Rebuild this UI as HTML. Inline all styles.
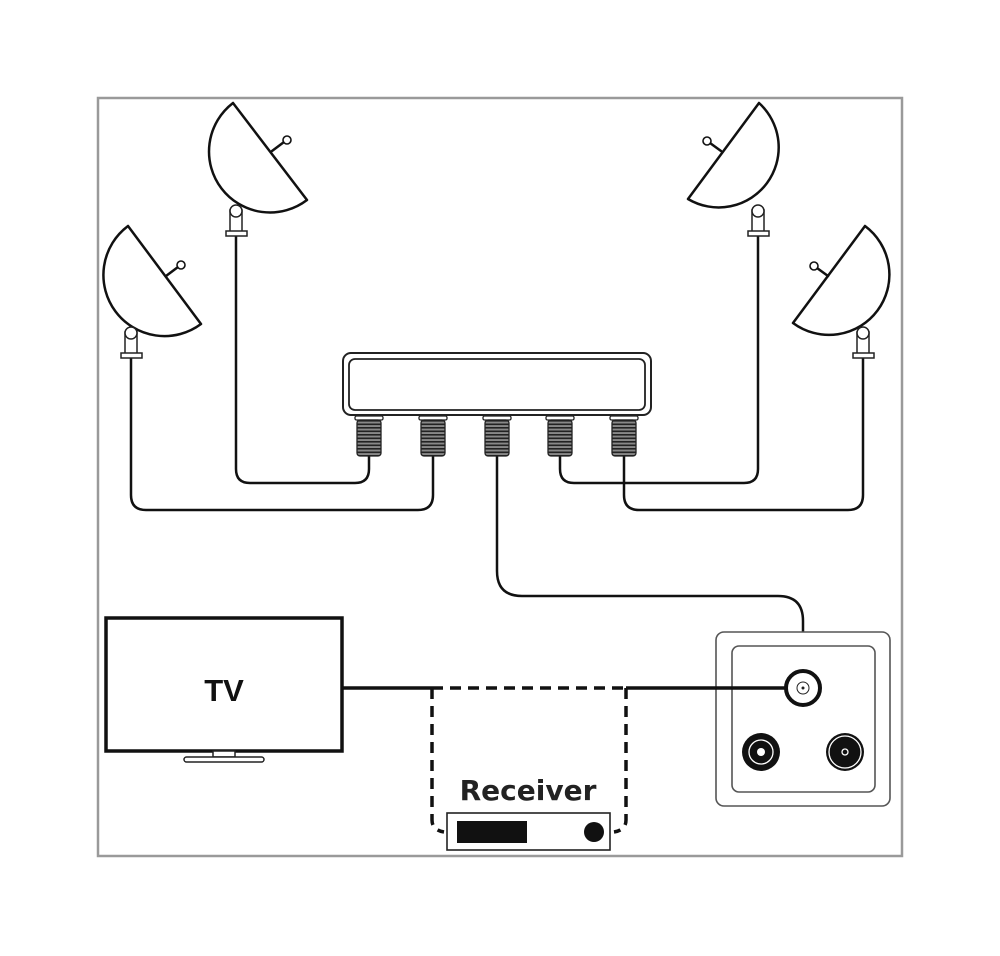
<!DOCTYPE html>
<html><head><meta charset="utf-8"><style>html,body{margin:0;padding:0;background:#fff}svg{display:block}</style></head>
<body>
<svg width="1000" height="956" viewBox="0 0 1000 956" xmlns="http://www.w3.org/2000/svg">
<rect x="0" y="0" width="1000" height="956" fill="#fff"/>
<rect x="98" y="98" width="804" height="758" fill="#fff" stroke="#9a9a9a" stroke-width="2.5"/>
<g fill="none" stroke="#111" stroke-width="2.5" stroke-linecap="round" stroke-linejoin="round">
<path d="M236 236 V469 Q236 483 250 483 H355 Q369 483 369 469 V456"/>
<path d="M131 358 V495 Q131 510 146 510 H418 Q433 510 433 495 V456"/>
<path d="M497 456 V571 Q497 596 522 596 H778 Q803 596 803 621 V632"/>
<path d="M560 456 V469 Q560 483 574 483 H744 Q758 483 758 469 V236"/>
<path d="M624 456 V495 Q624 510 639 510 H848 Q863 510 863 495 V358"/>
<path d="M233 103 A61 61 0 0 0 307 200 Z" fill="#fff"/>
<path d="M272 151 L284 142"/><circle cx="287" cy="140" r="4" fill="#fff" stroke-width="1.6"/>
<path d="M128 226 A61 61 0 0 0 201 324 Z" fill="#fff"/>
<path d="M166 276 L178 267"/><circle cx="181" cy="265" r="4" fill="#fff" stroke-width="1.6"/>
<path d="M759 103 A60 60 0 0 1 688 199 Z" fill="#fff"/>
<path d="M721 151 L710 143"/><circle cx="707" cy="141" r="4" fill="#fff" stroke-width="1.6"/>
<path d="M865 226 A60 60 0 0 1 793 323 Z" fill="#fff"/>
<path d="M828 276 L817 268"/><circle cx="814" cy="266" r="4" fill="#fff" stroke-width="1.6"/>
</g>
<g fill="#fff" stroke="#222" stroke-width="1.5">
<rect x="230" y="210" width="12" height="22"/><circle cx="236" cy="211" r="6"/><rect x="226" y="231" width="21" height="5"/>
<rect x="125" y="332" width="12" height="22"/><circle cx="131" cy="333" r="6"/><rect x="121" y="353" width="21" height="5"/>
<rect x="752" y="210" width="12" height="22"/><circle cx="758" cy="211" r="6"/><rect x="748" y="231" width="21" height="5"/>
<rect x="857" y="332" width="12" height="22"/><circle cx="863" cy="333" r="6"/><rect x="853" y="353" width="21" height="5"/>
</g>
<rect x="343" y="353" width="308" height="62" rx="8" fill="#fff" stroke="#222" stroke-width="2"/>
<rect x="349" y="359" width="296" height="51" rx="6" fill="#fff" stroke="#222" stroke-width="1.8"/>
<defs>
<pattern id="rib" width="4" height="3.5" patternUnits="userSpaceOnUse"><rect width="4" height="3.5" fill="#888"/><rect width="4" height="1.6" fill="#222"/></pattern>
</defs>
<g stroke="#222" stroke-width="1.3">
<g id="c"><rect x="355" y="416" width="28" height="4" rx="1.5" fill="#fff"/><rect x="357" y="420" width="24" height="36" rx="3" fill="url(#rib)"/></g>
<use href="#c" x="64"/><use href="#c" x="128"/><use href="#c" x="191"/><use href="#c" x="255"/>
</g>
<rect x="106" y="618" width="236" height="133" fill="#fff" stroke="#111" stroke-width="3.5"/>
<rect x="213" y="751" width="22" height="6" fill="#fff" stroke="#222" stroke-width="1.5"/>
<rect x="184" y="757" width="80" height="5" rx="2.5" fill="#fff" stroke="#222" stroke-width="1.5"/>
<text x="224" y="701" text-anchor="middle" font-family="Liberation Sans, sans-serif" font-weight="bold" font-size="31" fill="#111">TV</text>
<path d="M342 688 H432" stroke="#111" stroke-width="3.5"/>
<path d="M432 688 H626 M432 688 V820 Q432 830 444 832 M626 688 V820 Q626 830 614 832" fill="none" stroke="#111" stroke-width="3.5" stroke-dasharray="11 7"/>
<text x="528" y="800" text-anchor="middle" font-family="DejaVu Sans, sans-serif" font-weight="bold" font-size="28" fill="#222">Receiver</text>
<rect x="447" y="813" width="163" height="37" fill="#fff" stroke="#222" stroke-width="1.6"/>
<rect x="457" y="821" width="70" height="22" fill="#111"/>
<circle cx="594" cy="832" r="10" fill="#111"/>
<rect x="716" y="632" width="174" height="174" rx="8" fill="#fff" stroke="#555" stroke-width="1.6"/>
<rect x="732" y="646" width="143" height="146" rx="7" fill="#fff" stroke="#555" stroke-width="1.6"/>
<path d="M626 688 H800" stroke="#111" stroke-width="3.5"/>
<circle cx="803" cy="688" r="17" fill="#fff" stroke="#111" stroke-width="4"/>
<circle cx="803" cy="688" r="6" fill="#fff" stroke="#222" stroke-width="1"/>
<circle cx="803" cy="688" r="1.5" fill="#222"/>
<circle cx="761" cy="752" r="19" fill="#111"/>
<circle cx="761" cy="752" r="12" fill="none" stroke="#fff" stroke-width="1.3"/>
<circle cx="761" cy="752" r="4" fill="#fff"/>
<circle cx="845" cy="752" r="19" fill="#111"/>
<circle cx="845" cy="752" r="16" fill="none" stroke="#fff" stroke-width="1.3"/>
<circle cx="845" cy="752" r="3" fill="none" stroke="#fff" stroke-width="1.3"/>
</svg>
</body></html>
